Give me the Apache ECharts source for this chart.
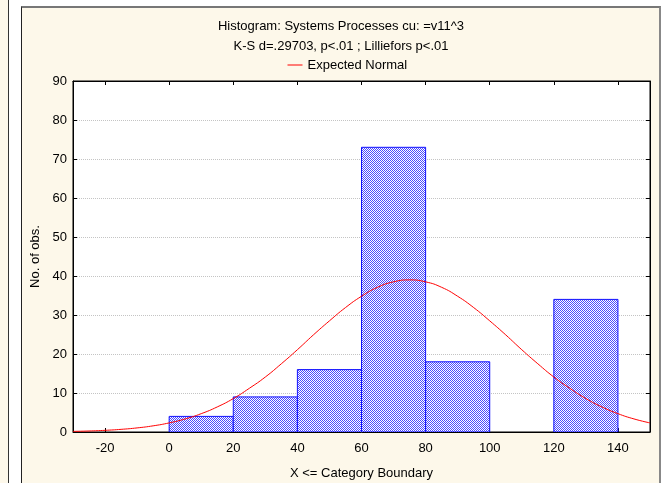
<!DOCTYPE html>
<html>
<head>
<meta charset="utf-8">
<script src="https://cdn.jsdelivr.net/npm/echarts@6/dist/echarts.min.js"></script>
<style>
html,body{margin:0;padding:0;background:#fff;width:668px;height:483px;overflow:hidden;}
#leftPanel{position:absolute;left:0;top:0;width:8px;height:483px;background:#fdf8ea;border-right:1px solid #333;}
#mainPanel{position:absolute;left:21px;top:6px;width:637px;height:477px;background:#fdf8ea;border-left:1px solid #222;border-top:2px solid #777;border-right:2px solid #888;}
#c{position:absolute;left:0;top:0;width:668px;height:483px;}
</style>
</head>
<body>
<div id="leftPanel"></div>
<div id="mainPanel"></div>
<div id="c"></div>
<script>
// ---- data ----
const titleText = 'Histogram: Systems Processes cu: =v11^3';
const subtitleText = 'K-S d=.29703, p<.01 ; Lilliefors p<.01';
const legendName = 'Expected Normal';
const xAxisName = 'X <= Category Boundary';
const yAxisName = 'No. of obs.';

const binLower = [0, 20, 40, 60, 80, 120];
const binUpper = [20, 40, 60, 80, 100, 140];
const binCounts = [4, 9, 16, 73, 18, 34];

const curveX = [-30, -25, -20, -15, -10, -5, 0, 5, 10, 15, 20, 25, 30, 35, 40, 45, 50, 55, 60, 65, 70, 75, 80, 85, 90, 95, 100, 105, 110, 115, 120, 125, 130, 135, 140, 145, 150];
const curveY = [0.16, 0.26, 0.43, 0.68, 1.05, 1.58, 2.33, 3.35, 4.7, 6.43, 8.57, 11.2, 14.1, 17.5, 21.1, 24.9, 28.5, 31.9, 34.8, 37.1, 38.5, 39.0, 38.5, 37.1, 34.8, 31.9, 28.5, 24.9, 21.1, 17.5, 14.1, 11.2, 8.57, 6.43, 4.7, 3.35, 2.33];

const xTickValues = [-20, 0, 20, 40, 60, 80, 100, 120, 140];
const yTickValues = [0, 10, 20, 30, 40, 50, 60, 70, 80, 90];

// ---- build ----
const FONT = "'Liberation Sans', Arial, sans-serif";

const cv = document.createElement('canvas');
cv.width = 4; cv.height = 4;
const cx = cv.getContext('2d');
cx.fillStyle = '#ffffff';
cx.fillRect(0, 0, 4, 4);
cx.fillStyle = '#4a4aff';
for (let y = 0; y < 4; y++) {
  for (let x = 0; x < 4; x++) {
    if ((x + y) % 2 === 0) cx.fillRect(x, y, 1, 1);
  }
}
const hatch = { image: cv, repeat: 'repeat' };

const barData = binLower.map((lo, i) => [lo, binUpper[i], binCounts[i]]);
const curveData = curveX.map((x, i) => [x, curveY[i]]);

const chart = echarts.init(document.getElementById('c'), null, { renderer: 'canvas' });

const baseX = {
  type: 'value', min: -30, max: 150, gridIndex: 0,
  splitLine: { show: false },
  axisLine: { show: true, onZero: false, lineStyle: { color: '#000', width: 1 } },
  axisTick: { show: true, inside: true, length: 4, customValues: xTickValues, lineStyle: { color: '#000' } },
};
const baseY = {
  type: 'value', min: 0, max: 90, gridIndex: 0,
  axisLine: { show: true, onZero: false, lineStyle: { color: '#000', width: 1 } },
  axisTick: { show: true, inside: true, length: 4, customValues: yTickValues, lineStyle: { color: '#000' } },
};

chart.setOption({
  backgroundColor: 'transparent',
  animation: false,
  textStyle: { fontFamily: FONT },
  grid: { left: 73, top: 81, right: 18, bottom: 51, show: true, backgroundColor: '#fff', borderColor: '#000', borderWidth: 1, outerBoundsMode: 'none', containLabel: false },
  graphic: [
    { type: 'text', x: 341, y: 26.5, style: { text: titleText, fontFamily: FONT, fontSize: 13, fill: '#000', align: 'center', verticalAlign: 'middle' } },
    { type: 'text', x: 341, y: 46, style: { text: subtitleText, fontFamily: FONT, fontSize: 13, fill: '#000', align: 'center', verticalAlign: 'middle' } }
  ],
  legend: {
    data: [legendName], left: 287, top: 58.5, padding: 0,
    itemWidth: 15, itemHeight: 14, itemGap: 5,
    itemStyle: { opacity: 0 },
    lineStyle: { color: '#ff0000', width: 1, opacity: 1 },
    textStyle: { fontFamily: FONT, fontSize: 13, color: '#000', padding: [0, 0, 0, 0] }
  },
  xAxis: [
    Object.assign({}, baseX, {
      position: 'bottom',
      name: xAxisName, nameLocation: 'middle', nameGap: 35,
      nameTextStyle: { fontFamily: FONT, fontSize: 13, color: '#000' },
      axisLabel: { show: true, customValues: xTickValues, margin: 10, fontFamily: FONT, fontSize: 13, color: '#000' }
    }),
    Object.assign({}, baseX, { position: 'top', axisLabel: { show: false } })
  ],
  yAxis: [
    Object.assign({}, baseY, {
      position: 'left',
      name: yAxisName, nameLocation: 'middle', nameGap: 30, nameRotate: 90,
      nameTextStyle: { fontFamily: FONT, fontSize: 13, color: '#000' },
      axisLabel: { show: true, customValues: yTickValues, margin: 6, fontFamily: FONT, fontSize: 13, color: '#000' },
      splitLine: { show: true, lineStyle: { color: '#c4c4c4', type: [1, 1], width: 1 } }
    }),
    Object.assign({}, baseY, { position: 'right', axisLabel: { show: false }, splitLine: { show: false } })
  ],
  series: [
    {
      type: 'custom', name: 'bars', xAxisIndex: 0, yAxisIndex: 0,
      data: barData,
      encode: { x: [0, 1], y: 2 },
      clip: true,
      renderItem: function (params, api) {
        const p0 = api.coord([api.value(0), api.value(2)]);
        const p1 = api.coord([api.value(1), 0]);
        return {
          type: 'rect',
          shape: { x: p0[0], y: p0[1], width: p1[0] - p0[0], height: p1[1] - p0[1] },
          style: { fill: hatch, stroke: '#1010ff', lineWidth: 1 }
        };
      },
      z: 2
    },
    {
      type: 'line', name: legendName, xAxisIndex: 0, yAxisIndex: 0,
      data: curveData, smooth: true, showSymbol: false, symbol: 'none',
      color: '#ff0000',
      lineStyle: { color: '#ff0000', width: 1 },
      itemStyle: { color: '#ff0000' },
      clip: true, z: 3
    }
  ]
});
</script>
</body>
</html>
